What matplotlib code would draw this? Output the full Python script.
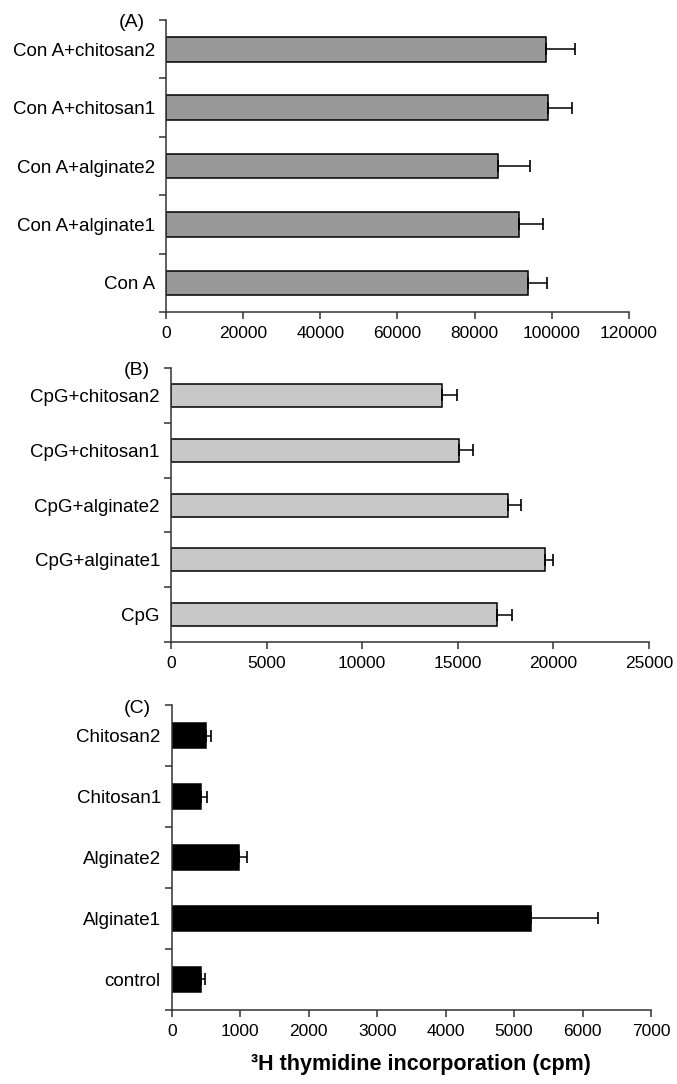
import matplotlib.pyplot as plt
import numpy as np

plt.rcParams['font.family'] = ['Liberation Sans', 'DejaVu Sans']

# panel A
labels_a = ['Con A', 'Con A+alginate1', 'Con A+alginate2', 'Con A+chitosan1', 'Con A+chitosan2']
vals_a = [93800, 91600, 86100, 98900, 98400]
errs_a = [5000, 6100, 8300, 6300, 7500]
ticks_a = [0, 20000, 40000, 60000, 80000, 100000, 120000]

# panel B
labels_b = ['CpG', 'CpG+alginate1', 'CpG+alginate2', 'CpG+chitosan1', 'CpG+chitosan2']
vals_b = [17040, 19550, 17640, 15080, 14190]
errs_b = [800, 430, 670, 730, 750]
ticks_b = [0, 5000, 10000, 15000, 20000, 25000]

# panel C
labels_c = ['control', 'Alginate1', 'Alginate2', 'Chitosan1', 'Chitosan2']
vals_c = [424, 5240, 979, 429, 497]
errs_c = [54, 980, 117, 78, 78]
ticks_c = [0, 1000, 2000, 3000, 4000, 5000, 6000, 7000]


def bar_panel(ax, labels, vals, errs, ticks, color, tag):
  n = len(labels)
  y = np.arange(n)
  ax.barh(y, vals, height=0.42, color=color, edgecolor='black', linewidth=1.1, zorder=2)
  ax.errorbar(vals, y, xerr=[np.zeros(n), errs], fmt='none', ecolor='black',
              elinewidth=1.1, capsize=4, capthick=1.2, zorder=3)
  ax.set_ylim(-0.5, n - 0.5)
  ax.set_xlim(ticks[0], ticks[-1])
  ax.set_xticks(ticks)
  ax.set_xticklabels([str(t) for t in ticks], fontsize=12.5)
  # category labels without ticks, ticks at the boundaries
  ax.set_yticks(y)
  ax.set_yticklabels(labels, fontsize=13.5)
  ax.tick_params(axis='y', which='major', length=0, pad=8)
  ax.set_yticks(np.arange(n + 1) - 0.5, minor=True)
  ax.tick_params(axis='y', which='minor', length=5, width=1.1, color='#333333')
  ax.tick_params(axis='x', length=5, width=1.1, color='#333333', pad=5)
  for s in ['top', 'right']:
    ax.spines[s].set_visible(False)
  for s in ['left', 'bottom']:
    ax.spines[s].set_linewidth(1.1)
    ax.spines[s].set_color('#333333')
  ax.text(-0.045, 0.99, tag, transform=ax.transAxes, ha='right', va='center', fontsize=14)


fig = plt.figure(figsize=(6.77, 10.84), dpi=100)
ax_a = fig.add_axes([0.245, 0.7122, 0.684, 0.2693])
ax_b = fig.add_axes([0.2526, 0.4077, 0.706, 0.2528])
ax_c = fig.add_axes([0.254, 0.0683, 0.7075, 0.2813])

bar_panel(ax_a, labels_a, vals_a, errs_a, ticks_a, '#999999', '(A)')
bar_panel(ax_b, labels_b, vals_b, errs_b, ticks_b, '#c8c8c8', '(B)')
bar_panel(ax_c, labels_c, vals_c, errs_c, ticks_c, 'black', '(C)')

ax_c.set_xlabel('³H thymidine incorporation (cpm)', fontsize=15.5, fontweight='bold', labelpad=12)
ax_c.xaxis.set_label_coords(0.52, -0.145)

fig.savefig('out.png', dpi=100)
